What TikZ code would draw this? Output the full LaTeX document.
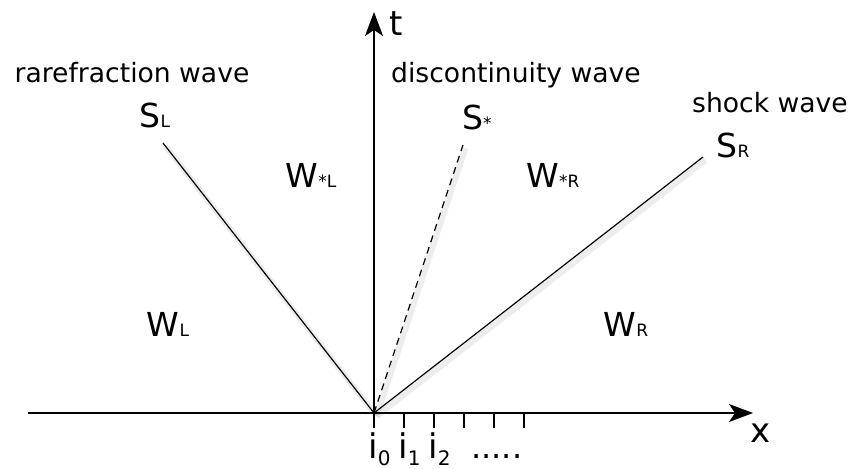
\documentclass[tikz,border=0pt]{standalone}
\usepackage{fontspec}
\setmainfont{DejaVu Sans}
\usetikzlibrary{arrows.meta}
\newcommand\lab[2]{{\fontsize{16.5}{16.5}\selectfont #1}{\fontsize{8.5}{8.5}\selectfont #2}}
\newcommand\idx[1]{i\raisebox{-3.5pt}{\fontsize{10}{10}\selectfont #1}}
\begin{document}
\begin{tikzpicture}[x=0.5pt,y=-0.5pt,
  shade line/.style={preaction={draw=black, opacity=0.07, line width=3pt,
     transform canvas={shift={(1.2pt,-1.6pt)}}}},
  axis/.style={line width=0.75pt,-{Stealth[length=12pt,width=9pt,inset=3pt]}},
  wave/.style={line width=0.6pt, shade line},
  tickline/.style={line width=0.6pt},
  caption/.style={font=\fontsize{13.3}{14}\selectfont, inner sep=0pt, anchor=base},
  sym/.style={inner sep=0pt, anchor=base},
  axlab/.style={font=\fontsize{17}{17}\selectfont, inner sep=0pt, anchor=base west}]
\useasboundingbox (0,0) rectangle (851,469);
\coordinate (O) at (374,413);
\coordinate (xs) at (28,413);
\coordinate (xe) at (753,413);
\coordinate (te) at (374,12);
\coordinate (L) at (163,143);
\coordinate (M) at (463,145);
\coordinate (R) at (703,157);
\draw[axis] (xs) -- (xe);
\draw[axis] (O) -- (te);
\draw[wave] (O) -- (L);
\draw[wave, dash pattern=on 3.5pt off 2.5pt] (O) -- (M);
\draw[wave] (O) -- (R);
\foreach \i in {0,...,5} {
  \coordinate (k\i) at ({374+30*\i},413);
  \coordinate (kb\i) at ({374+30*\i},428);
  \draw[tickline] (k\i) -- (kb\i);
}
\node[axlab] (tl) at (389,36) {t};
\node[axlab] (xl) at (750,443) {x};
\node[axlab] (i0) at (368,459) {\idx{0}};
\node[axlab] (i1) at (398,459) {\idx{1}};
\node[axlab] (i2) at (428,459) {\idx{2}};
\node[axlab, font=\fontsize{16}{16}\selectfont] (dots) at (471,459) {.....};
\node[caption] (cl) at (132,83) {rarefraction wave};
\node[caption] (cm) at (516,83) {discontinuity wave};
\node[caption] (cr) at (770,113) {shock wave};
\node[sym] (SL) at (155,128) {\lab{S}{L}};
\node[sym] (SM) at (477,130) {\lab{S}{*}};
\node[sym] (SR) at (733,158) {\lab{S}{R}};
\node[sym] (WsL) at (311,188) {\lab{W}{*L}};
\node[sym] (WsR) at (553,188) {\lab{W}{*R}};
\node[sym] (WL) at (168,337) {\lab{W}{L}};
\node[sym] (WR) at (626,337) {\lab{W}{R}};
\end{tikzpicture}
\end{document}
